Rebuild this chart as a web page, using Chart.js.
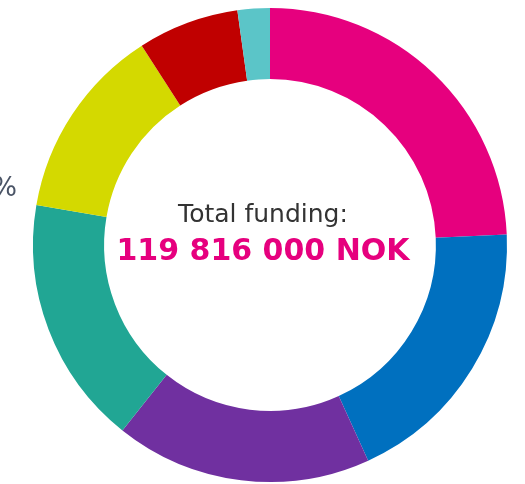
<!DOCTYPE html>
<html lang="en">
<head>
 <meta charset="UTF-8">
 <title>Total funding</title>
 <script src="https://cdn.jsdelivr.net/npm/chart.js"></script>
 <style>
 html, body { margin: 0; padding: 0; background: #fff; }
 #wrap { width: 525px; height: 484px; }
 </style>
</head>
<body>
 <div id="wrap"><canvas id="fundingChart" width="525" height="484"></canvas></div>
 <script>
 // share of total funding per area, in percent (clockwise from 12 o'clock)
 let categories = ["Area 1", "Area 2", "Area 3", "Area 4", "Area 5", "Area 6", "Area 7"];
 let shares = [24.3, 18.9, 17.5, 17.0, 13.2, 6.9, 2.2];
 let colors = ["#E6007E", "#0070BF", "#7030A0", "#21A694", "#D4D900", "#C00000", "#5BC5C8"];

 let totalLabel = "Total funding:";
 let totalValue = "119 816 000 NOK";

 // center text + the stray percent label on the left
 const centerText = {
   id: "centerText",
   afterDraw(chart) {
     const ctx = chart.ctx;
     ctx.save();
     ctx.textAlign = "center";
     ctx.textBaseline = "alphabetic";
     ctx.fillStyle = "#333333";
     ctx.font = "25px 'DejaVu Sans'";
     ctx.fillText(totalLabel, 263, 222);
     ctx.fillStyle = "#E6007E";
     ctx.font = "bold 30px 'DejaVu Sans'";
     ctx.fillText(totalValue, 263, 260);
     ctx.textAlign = "right";
     ctx.fillStyle = "#4A5466";
     ctx.font = "26px 'DejaVu Sans'";
     ctx.fillText("%", 17, 196);
     ctx.restore();
   }
 };

 new Chart(document.getElementById("fundingChart"), {
   type: "doughnut",
   data: {
     labels: categories,
     datasets: [{
       data: shares,
       backgroundColor: colors,
       borderWidth: 0
     }]
   },
   options: {
     responsive: false,
     animation: false,
     cutout: "70%",
     layout: { padding: { left: 33, right: 18, top: 8, bottom: 2 } },
     plugins: {
       legend: { display: false },
       tooltip: { enabled: false }
     }
   },
   plugins: [centerText]
 });
 </script>
</body>
</html>
